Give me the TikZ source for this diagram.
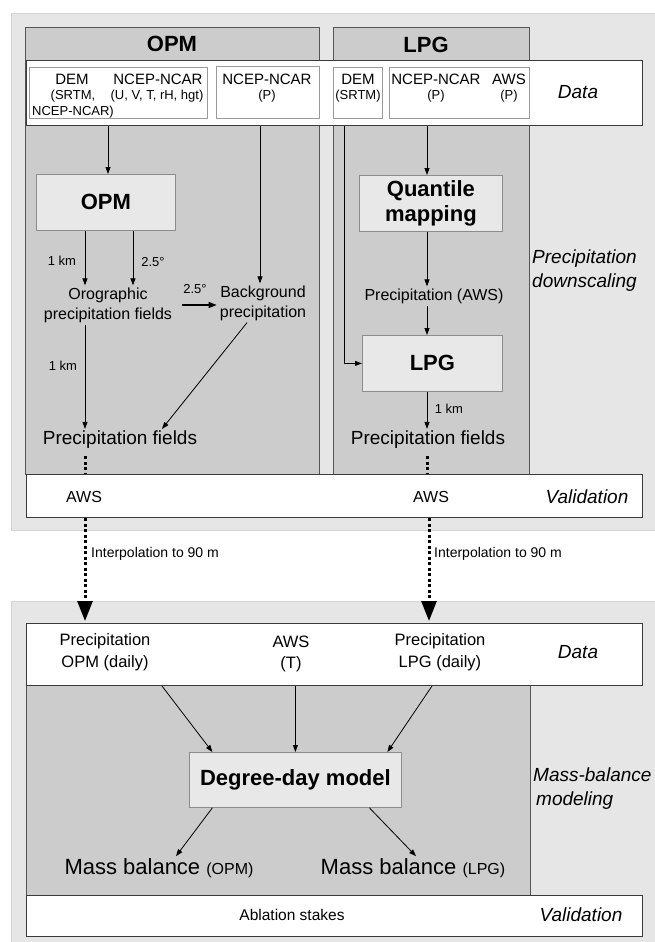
\documentclass[tikz,border=0pt]{standalone}
\usepackage{fontspec}
\setmainfont{Liberation Sans}
\usetikzlibrary{arrows.meta,calc}
\definecolor{lbg}{HTML}{E6E6E6}
\definecolor{lbgline}{HTML}{D4D4D4}
\definecolor{pnl}{HTML}{CCCCCC}
\definecolor{pnlline}{HTML}{555555}
\definecolor{procfill}{HTML}{E8E8E8}
\definecolor{procline}{HTML}{8C8C8C}
\definecolor{boxline}{HTML}{3A3A3A}
\definecolor{inline}{HTML}{9A9A9A}
\begin{document}
\begin{tikzpicture}[x=1pt,y=-1pt,
  every node/.style={inner sep=2pt},
  region/.style={fill=lbg,draw=lbgline,line width=0.8pt},
  panel/.style={fill=pnl,draw=pnlline,line width=0.8pt,anchor=north west,inner sep=0pt},
  whitebox/.style={fill=white,draw=boxline,line width=1pt,anchor=north west,inner sep=0pt},
  inbox/.style={fill=white,draw=inline,line width=0.7pt,anchor=north west,inner sep=0pt},
  procbox/.style={fill=procfill,draw=procline,line width=0.8pt,anchor=north west,inner sep=0pt,
     font=\fontsize{22}{25}\selectfont\bfseries,align=center},
  fa/.style={font=\fontsize{13}{16}\selectfont},
  fb/.style={font=\fontsize{15}{18}\selectfont},
  fc/.style={font=\fontsize{16}{20}\selectfont,align=center},
  fd/.style={font=\fontsize{19}{24}\selectfont},
  fi/.style={font=\fontsize{19}{24}\selectfont\itshape,align=left},
  fh/.style={font=\fontsize{22}{26}\selectfont\bfseries},
  arr/.style={line width=0.8pt,-{Triangle[length=7pt,width=5pt]}},
  arrthick/.style={line width=1.4pt,-{Triangle[length=8pt,width=6pt]}},
  dotthick/.style={line width=3pt,dash pattern=on 3pt off 2.5pt},
  bigdot/.style={line width=3pt,dash pattern=on 3pt off 2.5pt,-{Triangle[length=20pt,width=15pt]}}
]
\useasboundingbox (0,0) rectangle (654,942);
\fill[white] (0,0) rectangle (654,942);
% light gray regions
\draw[region] (11,13) rectangle (660,530);
\draw[region] (11,601) rectangle (660,946);
% panels
\node[panel,minimum width=294pt,minimum height=447pt] (opmpanel) at (25,27) {};
\node[panel,minimum width=196pt,minimum height=447pt] (lpgpanel) at (333,27) {};
\node[fh] (opmhead) at (172,44) {OPM};
\node[fh] (lpghead) at (426,45) {LPG};
% top data box
\node[whitebox,minimum width=616pt,minimum height=65pt] (data1) at (26,60) {};
\node[inbox,minimum width=178pt,minimum height=51pt] (ib1) at (29,67) {};
\node[inbox,minimum width=103pt,minimum height=52pt] (ib2) at (216,66) {};
\node[inbox,minimum width=49pt,minimum height=51pt] (ib3) at (333,67) {};
\node[inbox,minimum width=140pt,minimum height=51pt] (ib4) at (389,67) {};
\node[fb] (t1) at (72,79) {DEM};
\node[fa] (t2) at (73,96) {(SRTM,};
\node[fa] (t3) at (73,112) {NCEP-NCAR)};
\node[fb] (t4) at (158,79) {NCEP-NCAR};
\node[fa] (t5) at (157,96) {(U, V, T, rH, hgt)};
\node[fb] (t6) at (267,79) {NCEP-NCAR};
\node[fa] (t7) at (267,96) {(P)};
\node[fb] (t8) at (358,79) {DEM};
\node[fa] (t9) at (358,96) {(SRTM)};
\node[fb] (t10) at (436,79) {NCEP-NCAR};
\node[fb] (t11) at (509,79) {AWS};
\node[fa] (t12) at (436,96) {(P)};
\node[fa] (t13) at (509,96) {(P)};
\node[fi] (datalab1) at (578,92) {Data};
\node[fi,anchor=west] (pdlab) at (530,271) {Precipitation\\downscaling};
% process boxes
\node[procbox,minimum width=139pt,minimum height=56pt] (opmbox) at (36,174) {};
\node[fh] (opmboxt) at (opmbox.center) {OPM};
\node[procbox,minimum width=143pt,minimum height=56pt] (qm) at (359,175) {};
\node[fh,align=center,font=\fontsize{22}{25}\selectfont\bfseries] (qmt) at (qm.center) {Quantile\\mapping};
\node[procbox,minimum width=140pt,minimum height=56pt] (lpgbox) at (362,335) {};
\node[fh] (lpgboxt) at (lpgbox.center) {LPG};
% OPM column texts
\node[fc] (oro) at (108,305) {Orographic\\precipitation fields};
\node[fc] (bg) at (263,303) {Background\\precipitation};
\node[fd] (pf1) at (120,440) {Precipitation fields};
\node[fa] (l1) at (62,261) {1 km};
\node[fa] (l2) at (153,262) {2.5°};
\node[fa] (l3) at (195,289) {2.5°};
\node[fa] (l4) at (63,366) {1 km};
% LPG column texts
\node[fc] (pa) at (434,296) {Precipitation (AWS)};
\node[fd] (pf2) at (428,440) {Precipitation fields};
\node[fa] (l5) at (449,409) {1 km};
% validation box
\node[whitebox,minimum width=616pt,minimum height=43pt] (val1) at (26,474) {};
\node[fc] (aws1) at (84,497) {AWS};
\node[fc] (aws2) at (431,497) {AWS};
\node[fi] (vallab1) at (587,497) {Validation};
% columns
\coordinate (cO) at (108,0);
\coordinate (cP) at (260,0);
\coordinate (cA) at (85,0);
\coordinate (cB) at (133,0);
\coordinate (cL) at (427,0);
\coordinate (cD) at (344,0);
\coordinate (cM) at (429,0);
% OPM arrows
\draw[arr] (data1.south -| cO) -- (opmbox.north -| cO);
\draw[arr] (data1.south -| cP) -- (bg.north -| cP);
\draw[arr] (opmbox.south -| cA) -- (oro.north -| cA);
\draw[arr] (opmbox.south -| cB) -- (oro.north -| cB);
\draw[arrthick,shorten <=8pt,shorten >=1pt] (oro.east) -- (bg.west |- oro.east);
\draw[arr] (oro.south -| cA) -- (pf1.north -| cA);
\draw[arr] ([xshift=-16pt]bg.south) -- ([xshift=42pt]pf1.north);
\draw[dotthick,shorten <=5pt] (pf1.south -| cA) -- (val1.north -| cA);
% LPG arrows
\draw[arr] (data1.south -| cL) -- (qm.north -| cL);
\draw[arr] (qm.south -| cL) -- (pa.north -| cL);
\draw[arr] (pa.south -| cL) -- (lpgbox.north -| cL);
\draw[arr] (data1.south -| cD) |- (lpgbox.west);
\draw[arr] (lpgbox.south -| cL) -- (pf2.north -| cL);
\draw[dotthick,shorten <=5pt] (pf2.south -| cL) -- (val1.north -| cL);
% bottom section
\node[panel,minimum width=504pt,minimum height=210pt] (bpanel) at (26,685) {};
\node[whitebox,minimum width=616pt,minimum height=62pt] (data2) at (26,623) {};
\node[whitebox,minimum width=616pt,minimum height=41pt] (val2) at (26,895) {};
\node[procbox,minimum width=212pt,minimum height=55pt] (ddm) at (189,752) {};
\node[fh] (ddmt) at (ddm.center) {Degree-day model};
\node[fc,font=\fontsize{16.5}{22}\selectfont] (pr1) at (105,652) {Precipitation\\OPM (daily)};
\node[fc,font=\fontsize{16.5}{21}\selectfont] (aws3) at (291,654) {AWS\\(T)};
\node[fc,font=\fontsize{16.5}{22}\selectfont] (pr2) at (440,652) {Precipitation\\LPG (daily)};
\node[fi] (datalab2) at (578,652) {Data};
\node[fi,anchor=west] (mbmlab) at (531,789) {Mass-balance\\\hspace*{3pt}modeling};
\node (mb1) at (159,868) {\fontsize{22}{26}\selectfont Mass balance \fontsize{16}{19}\selectfont(OPM)};
\node (mb2) at (413,868) {\fontsize{22}{26}\selectfont Mass balance \fontsize{16}{19}\selectfont(LPG)};
\node[font=\fontsize{15.5}{19}\selectfont] (abl) at (292,915) {Ablation stakes};
\node[fi] (vallab2) at (581,915) {Validation};
% interpolation arrows
\draw[bigdot,shorten >=2pt] (val1.south -| cA) -- (data2.north -| cA);
\draw[bigdot,shorten >=2pt] (val1.south -| cM) -- (data2.north -| cM);
\node[fa,font=\fontsize{14}{17}\selectfont,anchor=west] (ip1) at (89,554) {Interpolation to 90 m};
\node[fa,font=\fontsize{14}{17}\selectfont,anchor=west] (ip2) at (432,554) {Interpolation to 90 m};
% bottom arrows
\coordinate (c1) at (162,0);
\coordinate (c2) at (432,0);
\draw[arr] (data2.south -| c1) -- ([xshift=-83pt]ddm.north);
\draw[arr] (data2.south -| ddm.north) -- (ddm.north);
\draw[arr] (data2.south -| c2) -- ([xshift=92pt]ddm.north);
\draw[arr] ([xshift=-83pt]ddm.south) -- ([xshift=17pt]mb1.north);
\draw[arr] ([xshift=74pt]ddm.south) -- ([xshift=3pt]mb2.north);
\end{tikzpicture}
\end{document}
